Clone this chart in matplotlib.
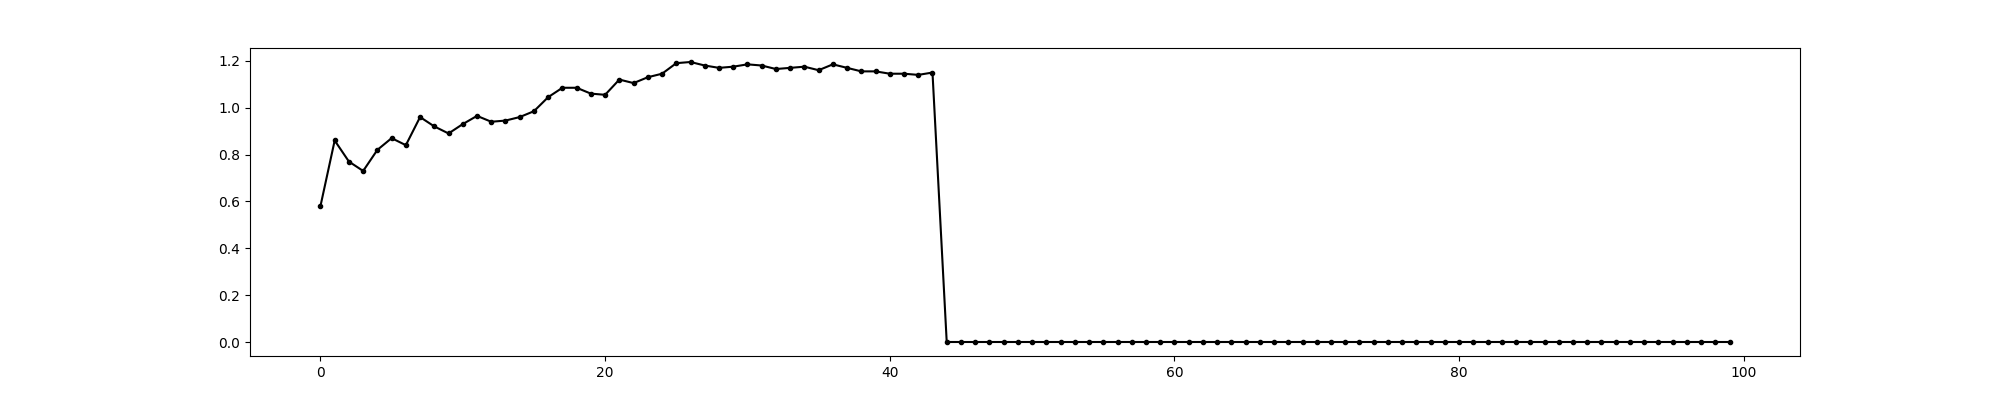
import matplotlib
matplotlib.use("Agg")
import matplotlib.pyplot as plt

rising = [0.58, 0.86, 0.77, 0.73, 0.82, 0.87, 0.84, 0.96, 0.92, 0.89,
          0.93, 0.965, 0.94, 0.945, 0.96, 0.985, 1.045, 1.085, 1.085, 1.06,
          1.055, 1.12, 1.105, 1.13, 1.145, 1.19, 1.195, 1.18, 1.17, 1.175,
          1.185, 1.18, 1.165, 1.17, 1.175, 1.16, 1.185, 1.17, 1.155, 1.155,
          1.145, 1.145, 1.14, 1.15]
values = rising + [0.0] * (100 - len(rising))
steps = list(range(len(values)))

fig, ax = plt.subplots(figsize=(20, 4), dpi=100)
ax.plot(steps, values, color="black", marker=".", markersize=6, linewidth=1.5)
fig.savefig("out.png")
